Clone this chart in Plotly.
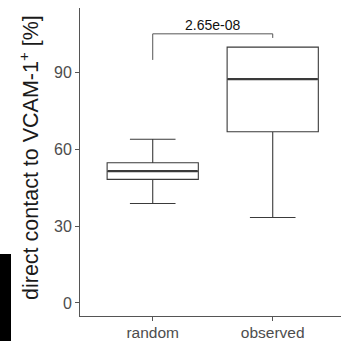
import plotly.graph_objects as go

categories = ["random", "observed"]
q1 = [48.3, 66.9]
median = [51.5, 87.5]
q3 = [54.8, 100.0]
lower = [38.9, 33.4]
upper = [64.0, 100.0]
p_label = "2.65e-08"
bracket_y = [95.0, 105.2, 105.2, 103.6]
y_ticks = [0, 30, 60, 90]
y_title = "direct contact to VCAM-1<sup>+</sup> [%]"

pos = list(range(len(categories)))
line_col = "#3a3a3a"
fig = go.Figure()
fig.add_trace(go.Box(
    x=pos, q1=q1, median=median, q3=q3, lowerfence=lower, upperfence=upper,
    width=0.76, fillcolor="white", line=dict(color=line_col, width=1.1),
    boxpoints=False, showlegend=False, hoverinfo="skip"))
for i, m in enumerate(median):
    fig.add_trace(go.Scatter(x=[pos[i] - 0.375, pos[i] + 0.375], y=[m, m], mode="lines",
                             line=dict(color=line_col, width=2.2), showlegend=False, hoverinfo="skip"))
fig.add_trace(go.Scatter(x=[pos[0], pos[0], pos[1], pos[1]], y=bracket_y, mode="lines",
                         line=dict(color="#555555", width=1), showlegend=False, hoverinfo="skip"))
fig.add_annotation(x=(pos[0] + pos[1]) / 2, y=bracket_y[1], text=p_label, showarrow=False,
                   yanchor="bottom", yshift=-1, font=dict(size=14, color="#111111"))

W, H, L, B, T = 341, 341, 80, 25, 8
pw, ph = W - L, H - B - T
fig.add_shape(type="rect", xref="paper", yref="paper", x0=-L/pw, x1=-(L-11)/pw, y0=-B/ph, y1=(H-B-254)/ph,
              fillcolor="black", line=dict(width=0), layer="below")
fig.add_annotation(xref="paper", yref="paper", x=(29 - L) / pw, y=(H - B - 158) / ph, text=y_title,
                   textangle=-90, showarrow=False, xanchor="center", yanchor="middle",
                   font=dict(size=21.5, color="#1a1a1a"))

fig.update_layout(
    width=W, height=H, margin=dict(l=L, r=0, t=T, b=B, autoexpand=False),
    plot_bgcolor="white", paper_bgcolor="white",
    font=dict(family="Liberation Sans, Arial, sans-serif"),
    xaxis=dict(range=[-0.606, 1.569], tickvals=pos, ticktext=categories, showgrid=False, zeroline=False,
               showline=True, linecolor="#555555", linewidth=1, ticks="outside", ticklen=4,
               tickcolor="#555555", tickfont=dict(size=15.5, color="#4d4d4d"), automargin=False,
               ticklabelstandoff=-2),
    yaxis=dict(range=[-5.1, 115.3], tickvals=y_ticks, showgrid=False, zeroline=False,
               showline=True, linecolor="#555555", linewidth=1, ticks="outside", ticklen=4,
               tickcolor="#555555", tickfont=dict(size=16, color="#4d4d4d"), automargin=False),
)
fig.write_html("out.html", config={"displayModeBar": False},
               post_script="document.body.style.margin='0';")
